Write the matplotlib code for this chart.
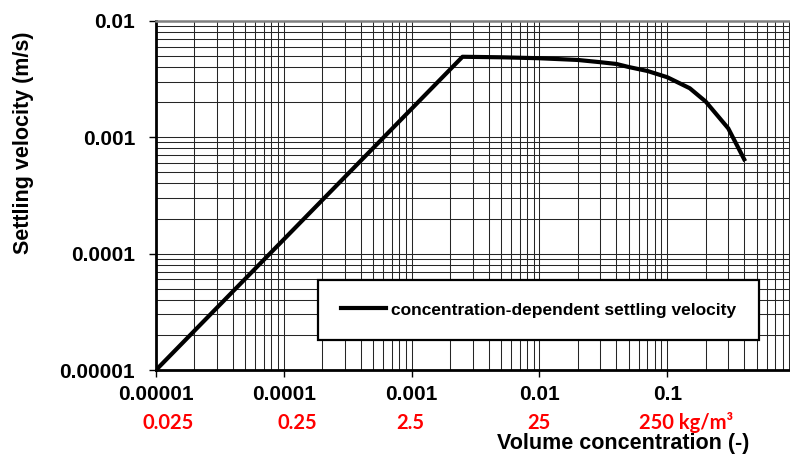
import numpy as np
import matplotlib
matplotlib.use('Agg')
import matplotlib.pyplot as plt
from matplotlib.ticker import LogLocator, FixedLocator, FixedFormatter, NullFormatter

# settling velocity vs. volume concentration
conc = [1e-5, 0.0025, 0.005, 0.01, 0.02, 0.03, 0.04, 0.05, 0.07, 0.1, 0.15, 0.2, 0.3, 0.4]
velocity = [1e-5, 0.0049, 0.00485, 0.00476, 0.0046, 0.0044, 0.00425, 0.0040, 0.0037,
            0.00327, 0.00263, 0.00202, 0.00119, 0.000645]

xticks = [1e-5, 1e-4, 1e-3, 1e-2, 1e-1]
xtick_labels = ['0.00001', '0.0001', '0.001', '0.01', '0.1']
yticks = [1e-5, 1e-4, 1e-3, 1e-2]
ytick_labels = ['0.00001', '0.0001', '0.001', '0.01']

# mass concentration equivalents (kg/m3) written under the axis
mass_labels = ['0.025', '0.25', '2.5', '25', '250 kg/m³']
mass_label_x = [0.2134, 0.376, 0.519, 0.682, 0.868]

plt.rcParams['font.family'] = ['Liberation Sans', 'DejaVu Sans']

fig = plt.figure(figsize=(7.9, 4.55), dpi=100)
ax = fig.add_axes([0.1975, 0.1868, 0.8089, 0.7677])

ax.plot(conc, velocity, color='black', lw=3, label='concentration-dependent settling velocity')

ax.set_xscale('log')
ax.set_yscale('log')
ax.set_xlim(1e-5, 1)
ax.set_ylim(1e-5, 1e-2)

ax.xaxis.set_major_locator(FixedLocator(xticks))
ax.xaxis.set_major_formatter(FixedFormatter(xtick_labels))
ax.yaxis.set_major_locator(FixedLocator(yticks))
ax.yaxis.set_major_formatter(FixedFormatter(ytick_labels))
for axis in (ax.xaxis, ax.yaxis):
    axis.set_minor_locator(LogLocator(base=10, subs=np.arange(2, 10), numticks=20))
    axis.set_minor_formatter(NullFormatter())

ax.grid(True, which='both', color='#262626', lw=0.75)
ax.set_axisbelow(True)

ax.tick_params(which='major', direction='out', length=5, width=1, labelsize=15)
ax.tick_params(axis='y', which='major', pad=10)
ax.tick_params(axis='x', which='major', pad=6)
ax.tick_params(which='minor', length=0)
for lbl in ax.get_xticklabels() + ax.get_yticklabels():
    lbl.set_fontweight('bold')

for side in ('left', 'bottom'):
    ax.spines[side].set_linewidth(2)
    ax.spines[side].set_color('black')
ax.spines['top'].set_linewidth(1.8)
ax.spines['top'].set_color('#7f7f7f')

leg = ax.legend(loc='center', bbox_to_anchor=(0.6815, 0.3187), bbox_transform=fig.transFigure,
                frameon=True, fancybox=False, framealpha=1, edgecolor='black',
                prop={'weight': 'bold', 'size': 12.5}, handlelength=2.6,
                handletextpad=0.3, borderpad=1.3)
leg.get_frame().set_linewidth(1.6)

for txt, xpos in zip(mass_labels, mass_label_x):
    fig.text(xpos, 0.071, txt, color='red', ha='center', va='center',
             family='Lato', fontweight='bold', fontsize=14.5)

fig.text(0.789, 0.026, 'Volume concentration (-)', ha='center', va='center',
         fontsize=15.5, fontweight='bold')
fig.text(0.030, 0.686, 'Settling velocity (m/s)', ha='center', va='center',
         rotation=90, fontsize=15.5, fontweight='bold')

fig.savefig('out.png', dpi=100)
